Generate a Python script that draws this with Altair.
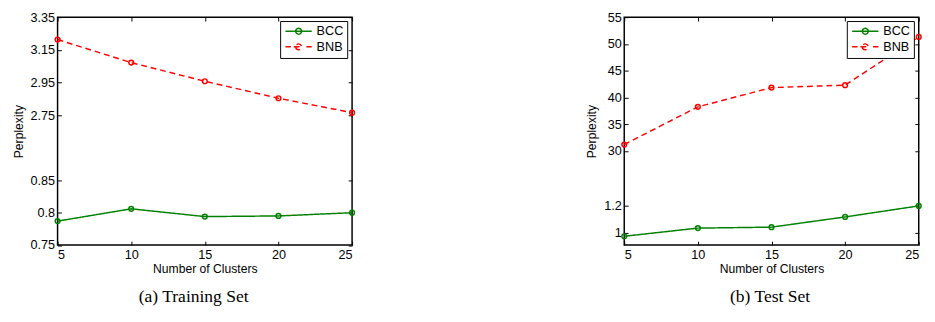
import altair as alt
import pandas as pd

clusters = [5, 10, 15, 20, 25]
series = ["BCC", "BNB"]
colors = ["#008000", "#ff0000"]

train_bcc = [0.787, 0.806, 0.794, 0.795, 0.800]
train_bnb = [3.213, 3.072, 2.958, 2.854, 2.766]
test_bcc = [0.976, 1.035, 1.042, 1.116, 1.196]
test_bnb = [31.2, 38.25, 41.84, 42.3, 51.3]

train_ticks = [0.75, 0.8, 0.85, 2.75, 2.95, 3.15, 3.35]
test_ticks = [1, 1.2, 30, 35, 40, 45, 50, 55]
x_ticks = [5, 10, 15, 20, 25]

# broken-axis (piecewise) y domains: lower segment, then upper segment
train_domain = [0.75, 0.9, 2.55, 3.35]
test_domain = [0.912, 1.4, 25, 55]

captions = ["(a) Training Set", "(b) Test Set"]

W, H = 303, 234.5
FONT = "Liberation Sans"
# legend symbols: solid line + circle, dashed line + circle
SYM_SOLID = "M-2.7,0H2.7M-0.6,0A0.6,0.6,0,1,0,0.6,0A0.6,0.6,0,1,0,-0.6,0"
SYM_DASH = ("M-2.7,0H-1.6M-1.0,0H1.0M1.6,0H2.7"
            "M-0.6,0A0.6,0.6,0,1,0,0.6,0A0.6,0.6,0,1,0,-0.6,0")


def panel(bcc, bnb, domain, break_frac, yticks, caption, dx):
    df = pd.DataFrame({
        "x": clusters + clusters,
        "y": bcc + bnb,
        "s": ["BCC"] * len(clusters) + ["BNB"] * len(clusters),
    })
    bp = H * break_frac
    xs = alt.Scale(domain=[5, 25], nice=False, zero=False)
    ys = alt.Scale(domain=domain, range=[H, bp, bp, 0], nice=False, zero=False)
    leg = alt.Legend(
        orient="none", legendX=229, legendY=4, title=None,
        symbolSize=100, symbolStrokeWidth=1.5, symbolOpacity=1,
        symbolFillColor="transparent", symbolOffset=8.5,
        labelFont=FONT, labelFontSize=13, labelColor="black", labelOffset=12,
        fillColor="white", strokeColor="black", padding=4, rowPadding=2,
        cornerRadius=0,
    )
    color = alt.Color("s:N", scale=alt.Scale(domain=series, range=colors), legend=leg)
    shape = alt.Shape("s:N", scale=alt.Scale(domain=series, range=[SYM_SOLID, SYM_DASH]), legend=leg)
    dash = alt.StrokeDash("s:N", scale=alt.Scale(domain=series, range=[[1, 0], [6, 4]]), legend=None)

    main_x = alt.X("x:Q", scale=xs, axis=alt.Axis(values=x_ticks, tickSize=0, domain=False, grid=False,
                                                  labelPadding=4, labelOverlap=False,
                                                  title="Number of Clusters", titlePadding=1))
    main_y = alt.Y("y:Q", scale=ys, axis=alt.Axis(values=yticks, tickSize=0, domain=False, grid=False,
                                                  labelPadding=3, labelOverlap=False,
                                                  labelExpr="'' + datum.value",
                                                  title="Perplexity", titlePadding=5))
    base = alt.Chart(df)
    lines = base.mark_line(strokeWidth=1.5).encode(x=main_x, y=main_y, color=color, strokeDash=dash,
                                                   detail="s:N")
    pts = base.mark_point(shape="circle", filled=False, size=24, strokeWidth=1.5, opacity=1).encode(
        x=alt.X("x:Q", axis=None), y=alt.Y("y:Q", axis=None), color=color)

    tick_common = dict(labels=False, title=None, domain=False, grid=False, tickSize=4,
                       tickColor="black", tickWidth=1)
    inner1 = base.mark_point(opacity=0, size=100, filled=False).encode(
        x=alt.X("x:Q", axis=alt.Axis(orient="top", offset=-H, values=x_ticks, **tick_common)),
        y=alt.Y("y:Q", axis=alt.Axis(orient="right", offset=-W, values=yticks, **tick_common)),
        color=color, shape=shape,
    )
    inner2 = base.mark_point(opacity=0).encode(
        x=alt.X("x:Q", axis=alt.Axis(orient="bottom", offset=-H, values=x_ticks, **tick_common)),
        y=alt.Y("y:Q", axis=alt.Axis(orient="left", offset=-W, values=yticks, **tick_common)),
    )
    layered = alt.layer(lines, pts, inner1, inner2).resolve_axis(x="independent", y="independent")
    return layered.properties(
        width=W, height=H,
        title=alt.TitleParams(caption, orient="bottom", font="Liberation Serif", fontSize=18,
                              fontWeight="normal", color="black", offset=14, anchor="middle",
                              frame="group", dx=dx),
    )


left = panel(train_bcc, train_bnb, train_domain, 136 / 237, train_ticks, captions[0], -11.5)
right = panel(test_bcc, test_bnb, test_domain, 167 / 237, test_ticks, captions[1], -1.5)

chart = alt.hconcat(left, right, spacing=225).resolve_scale(
    x="independent", y="independent", color="independent", strokeDash="independent",
    shape="independent",
).properties(
    padding={"left": 3, "top": -2, "right": -6.5, "bottom": 3},
    background="white",
).configure_view(
    stroke="black", strokeWidth=1.5
).configure_axis(
    labelFont=FONT, labelFontSize=13, labelColor="black", labelOverlap=False,
    titleFont=FONT, titleFontSize=12.5, titleFontWeight="normal", titleColor="black",
)

chart.save("out.html", embed_options={"renderer": "svg", "actions": False})
